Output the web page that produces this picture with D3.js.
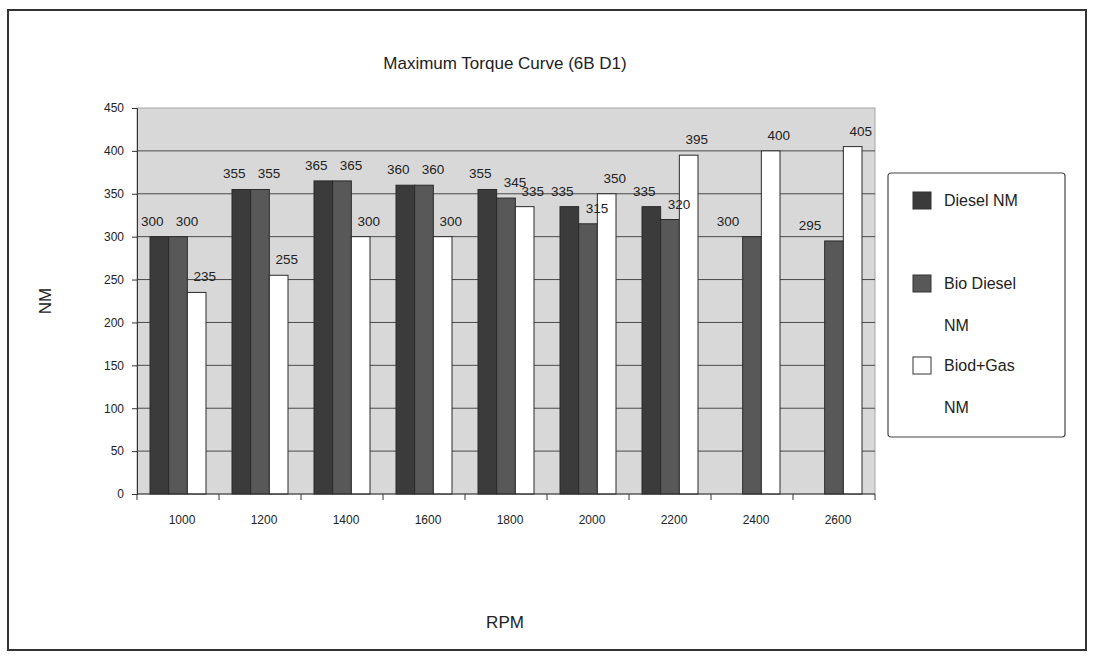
<!DOCTYPE html>
<html lang="en">
<head>
	<title>Maximum Torque Curve</title>
	<script src="https://d3js.org/d3.v7.min.js" charset="utf-8"></script>
	<style>
	body { margin: 0; background: #ffffff; }
	text { font-family: "Liberation Sans", Arial, sans-serif; fill: #222; }
	</style>
</head>
<body>
	<script>
	// chart data
	var rpm = ["1000", "1200", "1400", "1600", "1800", "2000", "2200", "2400", "2600"];
	var dieselNM = [300, 355, 365, 360, 355, 335, 335, null, null];
	var bioDieselNM = [300, 355, 365, 360, 345, 315, 320, 300, 295];
	var biodGasNM = [235, 255, 300, 300, 335, 350, 395, 400, 405];
	var seriesNames = ["Diesel NM", "BioDiesel NM", "Biod+Gas NM"];
	var legendLines = [["Diesel NM"], ["Bio Diesel", "NM"], ["Biod+Gas", "NM"]];
	var yTicks = [0, 50, 100, 150, 200, 250, 300, 350, 400, 450];

	drawChart();

	function drawChart(){
	var colors = ["#3b3b3b", "#585858", "#ffffff"];
	var labelShift = [-7, 9, 8]; // labels sit a bit off their bars, like the original
	var allSeries = [dieselNM, bioDieselNM, biodGasNM];

	var w = 1093, h = 656;
	var plotL = 137, plotR = 875, plotT = 108, plotB = 494;

	var svg = d3.select("body").append("svg")
		.attr("width", w)
		.attr("height", h);

	// outer frame
	svg.append("rect")
		.attr("x", 8).attr("y", 10)
		.attr("width", 1078).attr("height", 640)
		.attr("fill", "#fff")
		.attr("stroke", "#333")
		.attr("stroke-width", 2);

	var x = d3.scaleBand().domain(rpm).range([plotL, plotR]).padding(0);
	var x1 = d3.scaleBand().domain(d3.range(3)).range([13, 69]).padding(0);
	var y = d3.scaleLinear().domain([0, 450]).range([plotB, plotT]);

	// plot area
	svg.append("rect")
		.attr("x", plotL).attr("y", y(450))
		.attr("width", plotR - plotL).attr("height", y(0) - y(450))
		.attr("fill", "#d8d8d8")
		.attr("stroke", "#a5a5a5");

	// gridlines
	svg.selectAll(".grid")
		.data(yTicks.filter(function(d){ return d > 0 && d < 450; }))
		.enter().append("line")
		.attr("class", "grid")
		.attr("x1", plotL).attr("x2", plotR)
		.attr("y1", function(d){ return y(d); })
		.attr("y2", function(d){ return y(d); })
		.attr("stroke", "#4a4a4a")
		.attr("stroke-width", 1);

	// bars
	var groups = svg.selectAll(".grp")
		.data(rpm)
		.enter().append("g")
		.attr("class", "grp")
		.attr("transform", function(d){ return "translate(" + x(d) + ",0)"; });

	function rowOf(d, i){
		return allSeries.map(function(s, k){ return {k: k, v: s[i], alone: s[i] != null && k == 1 && dieselNM[i] == null}; })
			.filter(function(e){ return e.v != null; });
	}

	groups.selectAll("rect")
		.data(rowOf)
		.enter().append("rect")
		.attr("x", function(d){ return x1(d.k); })
		.attr("y", function(d){ return y(d.v); })
		.attr("width", x1.bandwidth())
		.attr("height", function(d){ return y(0) - y(d.v); })
		.attr("fill", function(d){ return colors[d.k]; })
		.attr("stroke", "#2a2a2a")
		.attr("stroke-width", 1);

	groups.selectAll("text")
		.data(rowOf)
		.enter().append("text")
		.attr("x", function(d){
			// with no diesel bar the biodiesel label drifts left
			var s = d.alone ? -24 : labelShift[d.k];
			return x1(d.k) + x1.bandwidth() / 2 + s;
		})
		.attr("y", function(d){ return y(d.v) - 11; })
		.attr("text-anchor", "middle")
		.attr("font-size", "13.5px")
		.attr("fill", "#333")
		.text(function(d){ return d.v; });

	// y axis
	var yAxis = d3.axisLeft(y).tickValues(yTicks).tickSize(5).tickPadding(8);
	var ya = svg.append("g")
		.attr("transform", "translate(" + plotL + ",0)")
		.call(yAxis);
	ya.selectAll("text").attr("font-size", "12px").attr("fill", "#333").attr("font-family", "Liberation Sans, Arial, sans-serif");
	ya.selectAll("line, path").attr("stroke", "#333");

	// x axis line and tick marks at category edges
	svg.append("line")
		.attr("x1", plotL).attr("x2", plotR)
		.attr("y1", y(0)).attr("y2", y(0))
		.attr("stroke", "#333");
	var edges = rpm.map(function(d){ return x(d); }).concat([plotR]);
	svg.selectAll(".xt")
		.data(edges)
		.enter().append("line")
		.attr("class", "xt")
		.attr("x1", function(d){ return d; }).attr("x2", function(d){ return d; })
		.attr("y1", y(0)).attr("y2", y(0) + 6)
		.attr("stroke", "#333");
	svg.selectAll(".xl")
		.data(rpm)
		.enter().append("text")
		.attr("class", "xl")
		.attr("x", function(d){ return x(d) + x.bandwidth() / 2 + 4; })
		.attr("y", 524)
		.attr("text-anchor", "middle")
		.attr("font-size", "12px")
		.attr("fill", "#333")
		.text(function(d){ return d; });

	// titles
	svg.append("text")
		.attr("x", 505).attr("y", 69)
		.attr("text-anchor", "middle")
		.attr("font-size", "17px")
		.text("Maximum Torque Curve (6B D1)");
	svg.append("text")
		.attr("x", 505).attr("y", 628)
		.attr("text-anchor", "middle")
		.attr("font-size", "17px")
		.text("RPM");
	svg.append("text")
		.attr("transform", "translate(51,301) rotate(-90)")
		.attr("text-anchor", "middle")
		.attr("font-size", "17px")
		.text("NM");

	// legend
	var legend = svg.append("g").attr("transform", "translate(888,173)");
	legend.append("rect")
		.attr("width", 177).attr("height", 264)
		.attr("rx", 3)
		.attr("fill", "#fff")
		.attr("stroke", "#444")
		.attr("stroke-width", 1.2);
	var legendY = [33, 116, 198];
	legendLines.forEach(function(lines, k){
		legend.append("rect")
			.attr("x", 25).attr("y", legendY[k] - 14)
			.attr("width", 18).attr("height", 17)
			.attr("fill", colors[k])
			.attr("stroke", "#333");
		lines.forEach(function(t, j){
			legend.append("text")
				.attr("x", 56).attr("y", legendY[k] + j * 42)
				.attr("font-size", "16px")
				.attr("fill", "#333")
				.text(t);
		});
	});
	}
	</script>
</body>
</html>
